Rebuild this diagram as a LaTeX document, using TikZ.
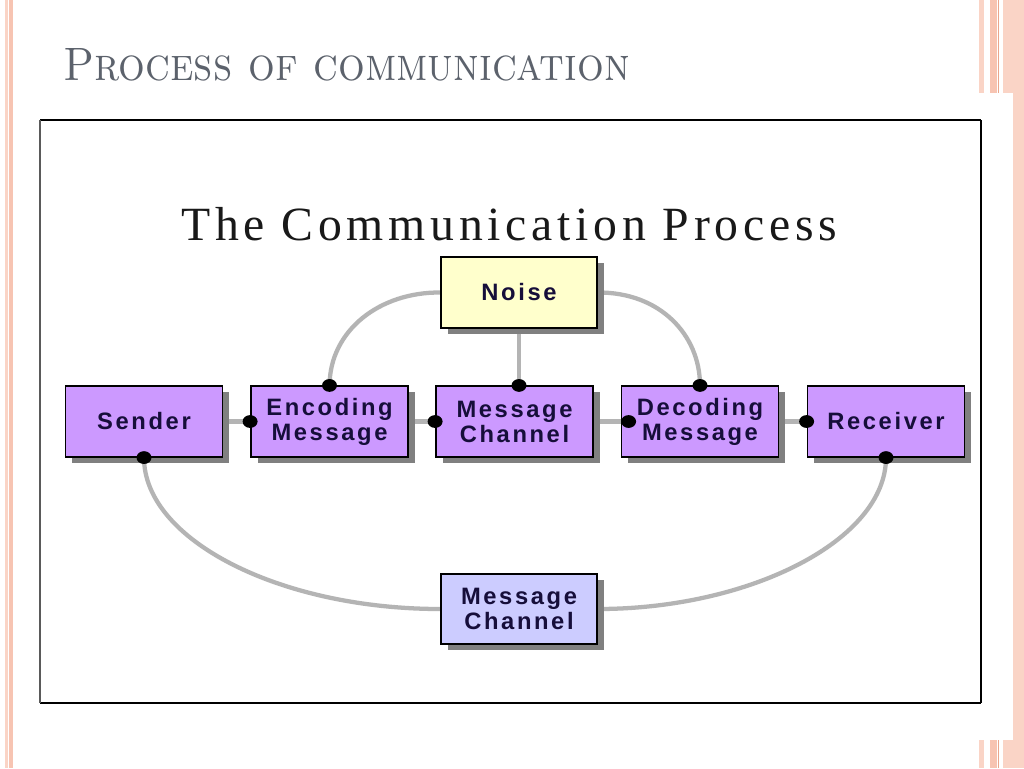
\documentclass[tikz,border=0pt]{standalone}
\usepackage{fontspec}
\usetikzlibrary{shadows}
\newfontfamily\boxfont{Liberation Sans}[LetterSpace=11]
\newfontfamily\ttlfont{Liberation Serif}[LetterSpace=10]
\definecolor{boxpurple}{RGB}{204,153,255}
\definecolor{noiseyellow}{RGB}{255,255,204}
\definecolor{chanblue}{RGB}{204,204,255}
\definecolor{txtnavy}{RGB}{22,14,58}
\definecolor{linegray}{RGB}{180,180,180}
\definecolor{shadowgray}{RGB}{128,128,128}
\definecolor{slidegray}{RGB}{92,98,108}
\definecolor{salmonA}{RGB}{250,212,198}
\definecolor{salmonB}{RGB}{247,196,178}
\definecolor{salmonC}{RGB}{234,166,140}
\definecolor{framegray}{RGB}{90,90,90}
\pgfdeclarelayer{paper}
\pgfdeclarelayer{bg}
\pgfsetlayers{paper,bg,main}
\begin{document}
\begin{tikzpicture}[x=0.75pt,y=-0.75pt,
  procbox/.style={draw=black, line width=1.1pt, minimum width=118pt, minimum height=53pt,
    inner sep=0pt, align=center, text=txtnavy,
    font=\boxfont\bfseries\fontsize{17.8}{18.8}\selectfont,
    drop shadow={shadow xshift=5pt, shadow yshift=-4.5pt, fill=shadowgray, opacity=1}},
  link/.style={draw=linegray, line width=3.2pt},
  joint/.style={fill=black}
]
\useasboundingbox (0,0) rectangle (1024,768);
\begin{pgfonlayer}{paper}
\fill[white] (0,0) rectangle (1024,768);
% decorative stripes
\fill[salmonA] (5,0) rectangle (8,768);
\fill[salmonB] (9,0) rectangle (12.5,768);
\foreach \ya/\yb in {0/93,740/768}{
  \fill[salmonA] (979,\ya) rectangle (984,\yb);
  \fill[salmonB] (990,\ya) rectangle (997,\yb);
  \fill[salmonC] (997.5,\ya) rectangle (999,\yb);
  \fill[salmonA] (1003,\ya) rectangle (1024,\yb);
}
\fill[salmonA] (1013,0) rectangle (1024,768);
\end{pgfonlayer}

% slide title
\node[anchor=base west, inner sep=0pt, text=slidegray] (slidetitle) at (63,80)
  {\resizebox{425pt}{24pt}{\scshape Process of communication}};

% frame
\draw[line width=1.4pt] (40,120) -- (981,120);
\draw[line width=0.8pt] (981,120) -- (981,703);
\draw[line width=1.4pt] (40,703) -- (981,703);
\draw[line width=1.5pt, framegray] (40,120) -- (40,703);

% inner title
\node[anchor=base west, inner sep=0pt, text=black!90] (maintitle) at (181,240)
  {\resizebox{492pt}{!}{\ttlfont\fontsize{39.75}{40}\selectfont The Communication Process}};

% boxes
\node[procbox, fill=boxpurple] (sender) at (144,421.5) {Sender};
\node[procbox, fill=boxpurple] (enc) at (329.5,421.5) {Encoding\\Message};
\node[procbox, fill=boxpurple] (chan) at (514.5,421.5) {Message\\Channel};
\node[procbox, fill=boxpurple] (dec) at (700,421.5) {Decoding\\Message};
\node[procbox, fill=boxpurple] (recv) at (886,421.5) {Receiver};
\node[procbox, fill=noiseyellow, minimum width=117pt] (noise) at (519,292.5) {Noise};
\node[procbox, fill=chanblue, minimum width=117pt, minimum height=52.5pt] (bchan) at (519,609) {Message\\Channel};

% connectors
\begin{pgfonlayer}{bg}
\draw[link] (sender.east) -- (enc.west);
\draw[link] (enc.east) -- (chan.west);
\draw[link] (chan.east) -- (dec.west);
\draw[link] (dec.east) -- (recv.west);
\draw[link] (noise.west) .. controls (380,292) and (330,330) .. (enc.north);
\draw[link] (noise.south) -- (noise.south |- chan.north);
\draw[link] (noise.east) .. controls (660,292) and (700,335) .. (dec.north);
\draw[link] (sender.south) .. controls (144,540) and (280,609) .. (bchan.west);
\draw[link] (recv.south) .. controls (886,540) and (750,609) .. (bchan.east);
\end{pgfonlayer}

% joints
\foreach \p in {(enc.west),(chan.west),([xshift=6pt]dec.west),(recv.west),(enc.north),(noise.south |- chan.north),(dec.north),(sender.south),(recv.south)}{
  \fill[joint] \p ellipse [x radius=5.6pt, y radius=4.8pt];
}
\end{tikzpicture}
\end{document}
